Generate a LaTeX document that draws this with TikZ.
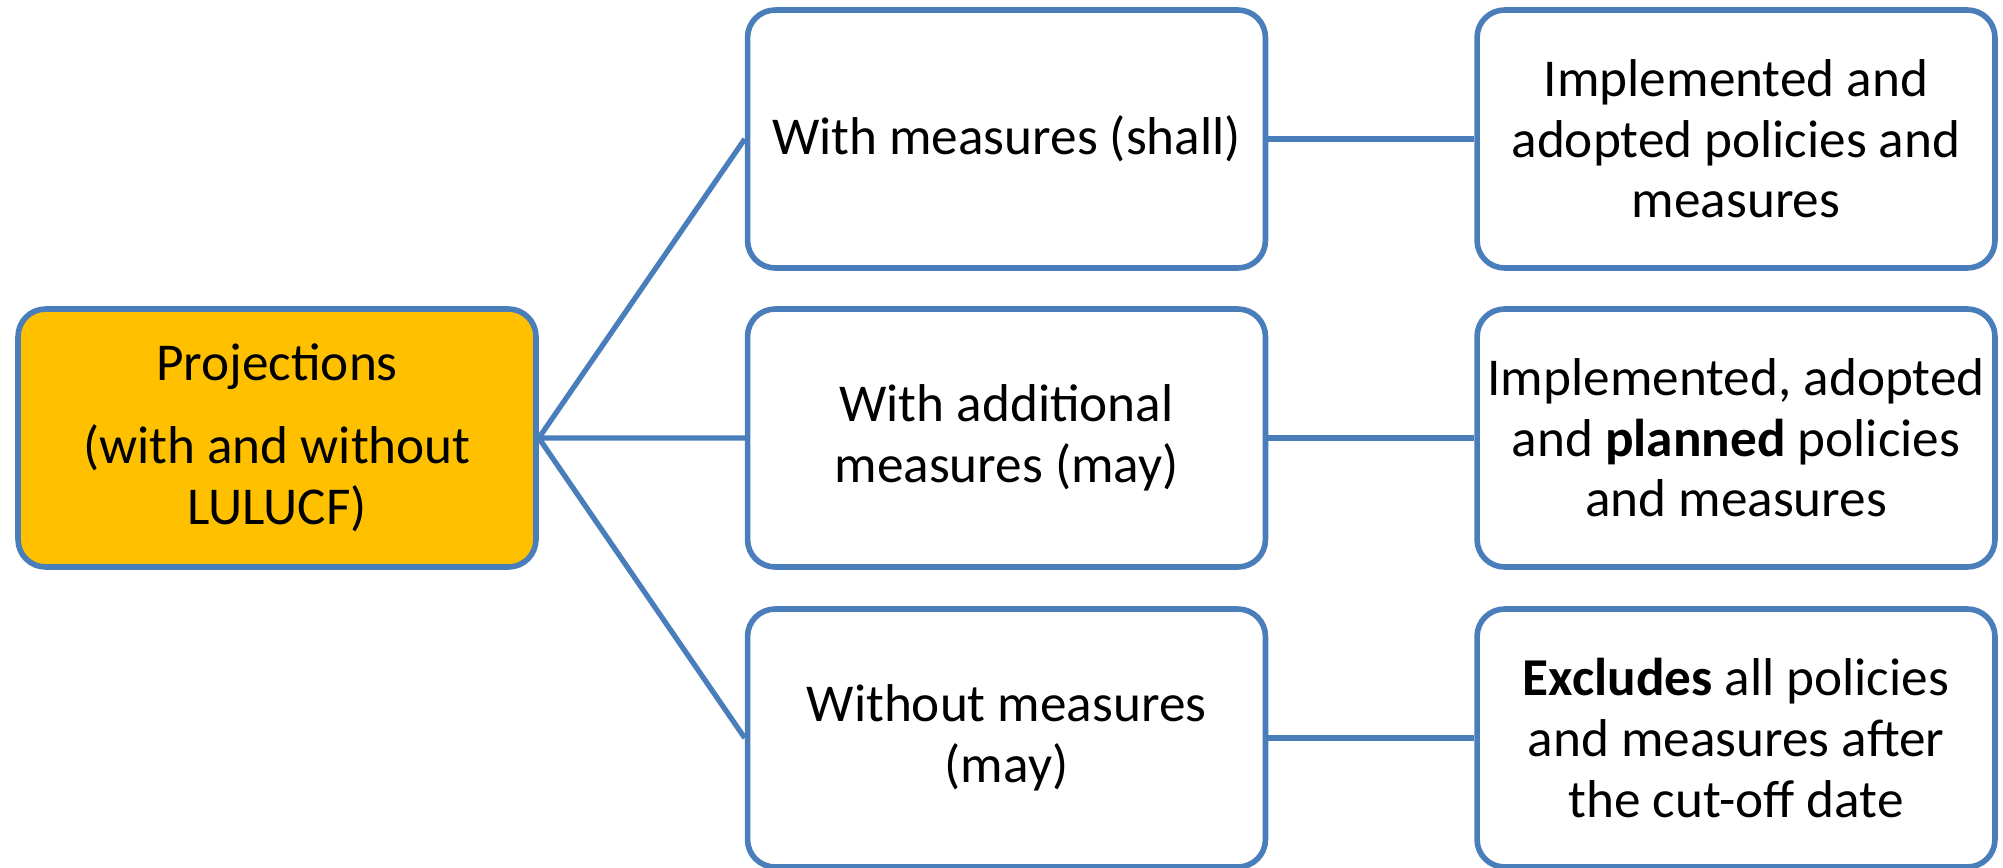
\documentclass[tikz,border=0pt]{standalone}
\usepackage{fontspec}
\setmainfont{Carlito}
\usepackage{tikz}
\definecolor{boxblue}{HTML}{4A7EBB}
\definecolor{projorange}{HTML}{FFC000}

\begin{document}
\begin{tikzpicture}[x=0.02cm,y=-0.02cm,
  box/.style={draw=boxblue,line width=3.2pt,rounded corners=0.55cm,fill=white,
    minimum width=10.36cm,minimum height=5.16cm,align=center,inner sep=0pt,
    font=\fontsize{30.3}{34.5}\selectfont},
  link/.style={draw=boxblue,line width=3pt}]
\useasboundingbox (0,0) rectangle (2003,868);
% left
\node[box,fill=projorange] (proj) at (277,438) {Projections\\[0.45cm](with and without\\LULUCF)};
% middle column
\node[box] (wm) at (1006.5,139) {With measures (shall)};
\node[box] (wam) at (1006.5,438) {With additional\\measures (may)};
\node[box] (wom) at (1006.5,738) {Without measures\\(may)};
% right column
\node[box] (impl) at (1736,139) {Implemented and\\adopted policies and\\measures};
\node[box] (plan) at (1736,438) {Implemented, adopted\\and \textbf{planned} policies\\and measures};
\node[box] (excl) at (1736,738) {\textbf{Excludes} all policies\\and measures after\\the cut-off date};
% links
\draw[link] (proj.east)--(wm.west) (proj.east)--(wam.west) (proj.east)--(wom.west);
\draw[link] (wm.east)--(impl.west) (wam.east)--(plan.west) (wom.east)--(excl.west);
\end{tikzpicture}
\end{document}
